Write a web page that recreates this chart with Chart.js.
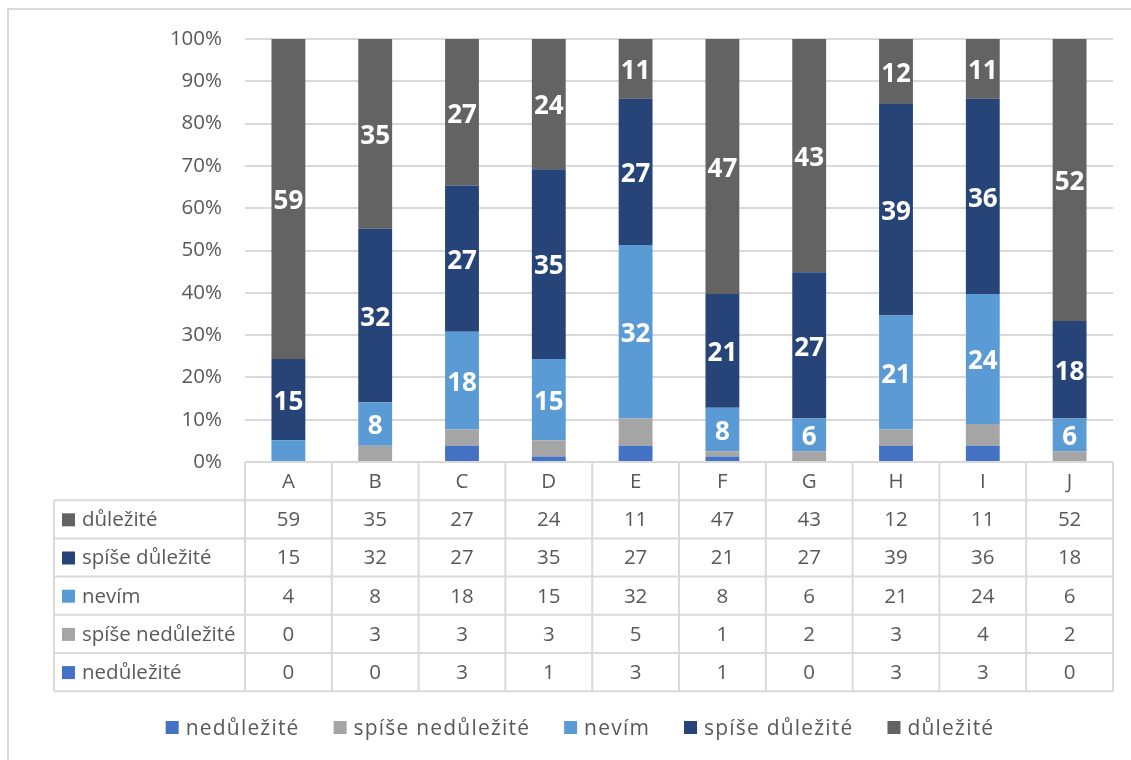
<!DOCTYPE html>
<html lang="cs">
<head>
<meta charset="utf-8">
<title>Důležitost</title>
<script src="https://cdn.jsdelivr.net/npm/chart.js@4.4.1/dist/chart.umd.min.js"></script>
<style>
  html, body { margin: 0; padding: 0; background: #fff; }
  canvas { display: block; }
</style>
</head>
<body>
<canvas id="graf" width="1131" height="760"></canvas>
<script>
// Odpovědi podle položek A–J (počty respondentů)
var kategorie = ["A", "B", "C", "D", "E", "F", "G", "H", "I", "J"];
var nedulezite = [0, 0, 3, 1, 3, 1, 0, 3, 3, 0];
var spiseNedulezite = [0, 3, 3, 3, 5, 1, 2, 3, 4, 2];
var nevim = [4, 8, 18, 15, 32, 8, 6, 21, 24, 6];
var spiseDulezite = [15, 32, 27, 35, 27, 21, 27, 39, 36, 18];
var dulezite = [59, 35, 27, 24, 11, 47, 43, 12, 11, 52];
var osaY = [0, 10, 20, 30, 40, 50, 60, 70, 80, 90, 100];

var nazvySerii = ["nedůležité", "spíše nedůležité", "nevím", "spíše důležité", "důležité"];
var barvySerii = ["#4472C4", "#A5A5A5", "#5B9BD5", "#264478", "#636363"];
var hodnoty = [nedulezite, spiseNedulezite, nevim, spiseDulezite, dulezite];
// popisky jen u horních tří řad a od hodnoty 5
var serieSPopisky = [2, 3, 4];
var minPopisek = 5;

var PISMO = "'Open Sans', 'Liberation Sans', sans-serif";
var SEDA_TEXT = "#595959";
var SEDA_CARA = "#d9d9d9";

// Součty za každou položku -> 100% skládaný graf
var soucty = kategorie.map(function (k, i) {
  var s = 0;
  hodnoty.forEach(function (h) { s += h[i]; });
  return s;
});

var datasets = hodnoty.map(function (h, si) {
  return {
    label: nazvySerii[si],
    data: h.map(function (v, i) { return soucty[i] ? (v / soucty[i]) * 100 : 0; }),
    backgroundColor: barvySerii[si],
    borderWidth: 0,
    barPercentage: 0.39,
    categoryPercentage: 1,
  };
});

// Pozadí a rámeček kolem grafu
var pozadi = {
  id: "pozadi",
  beforeDraw: function (chart) {
    var ctx = chart.ctx;
    ctx.save();
    ctx.fillStyle = "#fff";
    ctx.fillRect(0, 0, chart.width, chart.height);
    ctx.strokeStyle = SEDA_CARA;
    ctx.lineWidth = 2;
    ctx.beginPath();
    ctx.moveTo(8, chart.height);
    ctx.lineTo(8, 9);
    ctx.lineTo(chart.width, 9);
    ctx.stroke();
    ctx.restore();
  },
};

// Bílé hodnoty uprostřed segmentů
var popisky = {
  id: "popisky",
  afterDatasetsDraw: function (chart) {
    var ctx = chart.ctx;
    ctx.save();
    ctx.fillStyle = "#fff";
    ctx.font = "bold 26px " + PISMO;
    ctx.textAlign = "center";
    ctx.textBaseline = "middle";
    serieSPopisky.forEach(function (si) {
      var meta = chart.getDatasetMeta(si);
      meta.data.forEach(function (bar, i) {
        var v = hodnoty[si][i];
        if (v < minPopisek) return;
        ctx.fillText(String(v), bar.x, (bar.y + bar.base) / 2 + 3);
      });
    });
    ctx.restore();
  },
};

// Tabulka dat pod grafem a legenda
var tabulka = {
  id: "tabulka",
  afterDraw: function (chart) {
    var ctx = chart.ctx;
    var xs = chart.scales.x;
    var sirka = xs.getPixelForValue(1) - xs.getPixelForValue(0);
    var vlevo = 54;
    var hrana = xs.left;
    var vpravo = xs.right;
    var horni = chart.chartArea.bottom;
    var vyska = 38.2;
    var radky = [4, 3, 2, 1, 0];
    var spodni = horni + vyska * (radky.length + 1);

    ctx.save();
    ctx.strokeStyle = SEDA_CARA;
    ctx.lineWidth = 2;
    ctx.beginPath();
    // vodorovné čáry
    ctx.moveTo(hrana, horni);
    ctx.lineTo(vpravo, horni);
    for (var r = 1; r <= radky.length + 1; r++) {
      var y = horni + vyska * r;
      ctx.moveTo(vlevo, y);
      ctx.lineTo(vpravo, y);
    }
    // svislé čáry
    ctx.moveTo(vlevo, horni + vyska);
    ctx.lineTo(vlevo, spodni);
    for (var k = 0; k <= kategorie.length; k++) {
      var x = hrana + sirka * k;
      ctx.moveTo(x, horni);
      ctx.lineTo(x, spodni);
    }
    ctx.stroke();

    ctx.fillStyle = SEDA_TEXT;
    ctx.font = "20.5px " + PISMO;
    ctx.textBaseline = "middle";
    ctx.textAlign = "center";
    kategorie.forEach(function (kat, i) {
      ctx.fillText(kat, xs.getPixelForValue(i), horni + vyska / 2 + 1);
    });

    radky.forEach(function (si, r) {
      var yc = horni + vyska * (r + 1.5) + 1;
      ctx.fillStyle = barvySerii[si];
      ctx.fillRect(62, yc - 7, 13, 13);
      ctx.fillStyle = SEDA_TEXT;
      ctx.textAlign = "left";
      ctx.fillText(nazvySerii[si], 82, yc);
      ctx.textAlign = "center";
      hodnoty[si].forEach(function (v, i) {
        ctx.fillText(String(v), xs.getPixelForValue(i), yc);
      });
    });

    // legenda
    ctx.font = "21px " + PISMO;
    ctx.letterSpacing = "1.2px";
    ctx.textAlign = "left";
    var box = 13, mezera = 7, odstup = 34;
    var celkem = 0;
    var sirky = nazvySerii.map(function (n) {
      var w = ctx.measureText(n).width;
      celkem += box + mezera + w;
      return w;
    });
    celkem += odstup * (nazvySerii.length - 1);
    var lx = 580 - celkem / 2;
    var ly = 729;
    nazvySerii.forEach(function (n, si) {
      ctx.fillStyle = barvySerii[si];
      ctx.fillRect(lx, ly - 8, box, box);
      ctx.fillStyle = SEDA_TEXT;
      ctx.fillText(n, lx + box + mezera, ly);
      lx += box + mezera + sirky[si] + odstup;
    });
    ctx.restore();
  },
};

new Chart(document.getElementById("graf"), {
  type: "bar",
  data: {
    labels: kategorie,
    datasets: datasets,
  },
  options: {
    responsive: false,
    animation: false,
    layout: {
      padding: { left: 0, right: 18, top: 39, bottom: 298 },
    },
    plugins: {
      legend: { display: false },
      tooltip: { enabled: false },
    },
    scales: {
      x: {
        stacked: true,
        display: false,
      },
      y: {
        stacked: true,
        min: 0,
        max: 100,
        afterFit: function (scale) { scale.width = 245; },
        afterBuildTicks: function (scale) {
          scale.ticks = osaY.map(function (v) { return { value: v }; });
        },
        border: { display: false },
        grid: {
          color: SEDA_CARA,
          lineWidth: 2,
          drawTicks: false,
        },
        ticks: {
          padding: 23,
          color: SEDA_TEXT,
          font: { family: PISMO, size: 20.5 },
          callback: function (v) { return v + "%"; },
        },
      },
    },
  },
  plugins: [pozadi, popisky, tabulka],
});
</script>
</body>
</html>
